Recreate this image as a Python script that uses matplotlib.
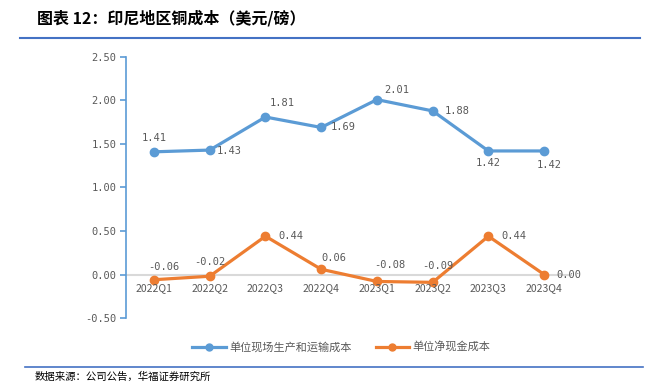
import matplotlib
matplotlib.use("Agg")
import matplotlib.pyplot as plt
from matplotlib.lines import Line2D

plt.rcParams['font.family'] = ['Noto Sans CJK SC', 'DejaVu Sans']

# data
quarters = ['2022Q1', '2022Q2', '2022Q3', '2022Q4', '2023Q1', '2023Q2', '2023Q3', '2023Q4']
site_cost = [1.41, 1.43, 1.81, 1.69, 2.01, 1.88, 1.42, 1.42]
net_cash_cost = [-0.06, -0.02, 0.44, 0.06, -0.08, -0.09, 0.44, 0.00]
series_names = ['单位现场生产和运输成本', '单位净现金成本']
y_ticks = [-0.5, 0.0, 0.5, 1.0, 1.5, 2.0, 2.5]

# label offsets (points) for each data label
site_offsets = [(0, 10), (14, -1), (12, 10), (16, 0), (14, 7), (18, 0), (0, -9), (4, -10)]
net_offsets = [(7, 9), (0, 10), (18, 0), (9, 8), (9, 12), (4, 12), (18, 0), (18, 0)]

blue = '#5B9BD5'
orange = '#ED7D31'
gray = '#595959'
num_font = ['DejaVu Sans Mono']

fig = plt.figure(figsize=(6.5, 3.85), dpi=100)
ax = fig.add_axes([0.194, 0.174, 0.686, 0.678])

x = list(range(len(quarters)))
ax.axhline(0, color='#D9D9D9', lw=1.5, zorder=1)
ax.plot(x, site_cost, color=blue, lw=2.3, marker='o', ms=6, zorder=3)
ax.plot(x, net_cash_cost, color=orange, lw=2.3, marker='o', ms=6, zorder=3)

for i, v in enumerate(site_cost):
    dx, dy = site_offsets[i]
    ax.annotate(f'{v:.2f}', (i, v), xytext=(dx, dy), textcoords='offset points',
                ha='center', va='center', fontsize=7.5, color=gray, family=num_font)
for i, v in enumerate(net_cash_cost):
    dx, dy = net_offsets[i]
    ax.annotate(f'{v:.2f}', (i, v), xytext=(dx, dy), textcoords='offset points',
                ha='center', va='center', fontsize=7.5, color=gray, family=num_font)

# category labels sit just under the zero line
for i, q in enumerate(quarters):
    ax.annotate(q, (i, 0), xytext=(0, -10), textcoords='offset points',
                ha='center', va='center', fontsize=7.5, color=gray)

ax.set_xlim(-0.5, len(quarters) - 0.5)
ax.set_ylim(-0.5, 2.5)
ax.set_yticks(y_ticks)
ax.set_yticklabels([f'{t:.2f}' for t in y_ticks], fontsize=7.5, color=gray, family=num_font)
ax.set_xticks([])
for s in ['top', 'right', 'bottom']:
    ax.spines[s].set_visible(False)
ax.spines['left'].set_color(blue)
ax.spines['left'].set_linewidth(1.2)
ax.tick_params(axis='y', colors=blue, length=4, width=1.2, labelcolor=gray, pad=3)

handles = [Line2D([0], [0], color=blue, lw=2.3, marker='o', ms=5),
           Line2D([0], [0], color=orange, lw=2.3, marker='o', ms=5)]
fig.legend(handles, series_names, loc='center', bbox_to_anchor=(0.525, 1 - 347 / 385),
           ncol=2, frameon=False, fontsize=8, labelcolor=gray,
           handlelength=3.0, columnspacing=2.2, handletextpad=0.3)

# title, rules and footer
fig.text(37 / 650, 1 - 18 / 385, '图表 12：印尼地区铜成本（美元/磅）', fontsize=11.5,
         fontweight='bold', va='center', ha='left', color='black')
fig.add_artist(Line2D([20 / 650, 640 / 650], [1 - 38 / 385] * 2, color='#4472C4', lw=1.5))
fig.add_artist(Line2D([25 / 650, 643 / 650], [1 - 367 / 385] * 2, color='#4472C4', lw=1.2))
fig.text(35 / 650, 1 - 371 / 385, '数据来源：公司公告，华福证券研究所', fontsize=7.5,
         va='top', ha='left', color='black')

fig.savefig('out.png', dpi=100)
